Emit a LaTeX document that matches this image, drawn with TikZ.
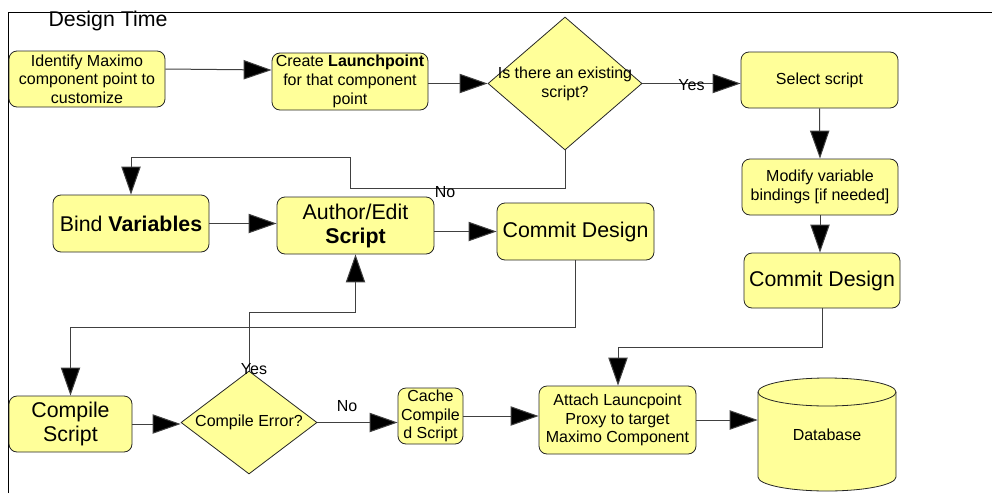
\documentclass[tikz,border=0pt]{standalone}
\usepackage{fontspec}
\setmainfont{Liberation Sans}
\usetikzlibrary{arrows.meta,shapes.geometric}
\definecolor{boxfill}{HTML}{FFFF99}
\begin{document}
\begin{tikzpicture}[x=0.75pt,y=-0.75pt,
  box/.style={draw=black!85, fill=boxfill, rounded corners=6pt, inner sep=0.5pt, align=center, line width=0.6pt},
  small/.style={font=\fontsize{12}{14}\selectfont},
  big/.style={font=\fontsize{16}{18}\selectfont},
  dia/.style={draw=black!85, fill=boxfill, diamond, inner sep=0pt, line width=0.6pt},
  txt/.style={align=center, inner sep=0pt},
  conn/.style={draw=black!75, line width=0.75pt, -{Triangle[length=21pt,width=14.5pt,fill=black]}},
  lbl/.style={font=\fontsize{12}{14}\selectfont, inner sep=0pt}]
\useasboundingbox (0,0) rectangle (992,493);
% frame
\draw[line width=0.75pt] (8,493) -- (8,12) -- (992,12);
\node[font=\fontsize{16}{18}\selectfont, inner sep=0pt] (title) at (108,21) {Design Time};

% nodes
\node[box,small,minimum width=117pt,minimum height=42pt] (b1) at (87,79) {Identify Maximo\\component point to\\customize};
\node[box,small,minimum width=117pt,minimum height=42.75pt] (b2) at (350,81.5) {Create \textbf{Launchpoint}\\for that component\\point};
\node[dia,minimum width=115.5pt,minimum height=99.75pt] (d1) at (565,83.5) {};
\node[txt,small] (d1t) at (565,84) {Is there an existing\\script?};
\node[box,small,minimum width=117.75pt,minimum height=42pt] (sel) at (819.5,80) {Select script};
\node[box,small,minimum width=117pt,minimum height=42pt] (mod) at (820,187) {Modify variable\\bindings [if needed]};
\node[box,big,minimum width=117pt,minimum height=41.25pt] (c2) at (822,280.5) {Commit Design};
\node[box,big,minimum width=117pt,minimum height=42.75pt] (bind) at (131,223.5) {Bind \textbf{Variables}};
\node[box,big,minimum width=117.75pt,minimum height=42.75pt] (auth) at (355.5,225.5) {Author/Edit\\\textbf{Script}};
\node[box,big,minimum width=117.75pt,minimum height=42.75pt] (c1) at (575.5,231.5) {Commit Design};
\node[box,big,minimum width=92.25pt,minimum height=42pt] (comp) at (70.5,424) {Compile\\Script};
\node[dia,minimum width=102pt,minimum height=77.25pt] (d2) at (249,422.5) {};
\node[txt,small] (d2t) at (249,422.5) {Compile Error?};
\node[box,small,minimum width=48.75pt,minimum height=42pt] (cache) at (430.5,416) {Cache\\Compile\\d Script};
\node[box,small,minimum width=117.75pt,minimum height=51pt] (att) at (617.5,420) {Attach Launcpoint\\Proxy to target\\Maximo Component};
% database cylinder
\filldraw[draw=black!85, fill=boxfill, line width=0.6pt] (758,392) -- (758,477)
  arc[start angle=180,end angle=360,x radius=51.75pt,y radius=10.5pt] -- (896,392)
  arc[start angle=0,end angle=180,x radius=51.75pt,y radius=10.5pt] -- cycle;
\draw[draw=black!85, line width=0.6pt] (758,392) arc[start angle=180,end angle=360,x radius=51.75pt,y radius=10.5pt];
\node[small,minimum width=103.5pt,minimum height=84.75pt,inner sep=0pt] (db) at (827,434.5) {Database};

% coordinates
\coordinate (n1) at (565,188);
\coordinate (n2) at (350,188);
\coordinate (n3) at (350,157);
\coordinate (n4) at (131,157);
\coordinate (k1) at (618,347);
\coordinate (k2) at (70.5,327);
\coordinate (m1) at (249,312);
\coordinate (m2) at (355.5,312);

% connectors
\draw[conn] ([yshift=7.5pt]b1.east) -- ([yshift=8.6pt]b2.west);
\draw[conn] (b2.east |- d1.west) -- (d1.west);
\draw[conn] (d1.east) -- (d1.east -| sel.west) node[lbl,pos=0.5,yshift=-1.5pt] (yes1) {Yes};
\draw[conn] (sel.south) -- (mod.north);
\draw[conn] (mod.south) -- (mod.south |- c2.north);
\draw[conn] (c2.south) |- (k1) -- (k1 |- att.north);
\draw[conn] (d1.south) -- (n1) -- (n2) -- (n3) -- (n4) -- (bind.north);
\node[lbl] (no1) at (445,192) {No};
\draw[conn] (bind.east) -- (bind.east -| auth.west);
\draw[conn] (auth.east |- c1.west) -- (c1.west);
\draw[conn] (c1.south) |- (k2) -- (comp.north);
\draw[conn] (comp.east) -- (comp.east -| d2.west);
\draw[conn] (d2.north) -- (m1) -- (m2) -- (auth.south);
\node[lbl] (yes2) at (254,369) {Yes};
\draw[conn] (d2.east) -- (d2.east -| cache.west);
\node[lbl] (no2) at (347,406) {No};
\draw[conn] (cache.east) -- (cache.east -| att.west);
\draw[conn] (att.east) -- (att.east -| db.west);
\end{tikzpicture}
\end{document}
